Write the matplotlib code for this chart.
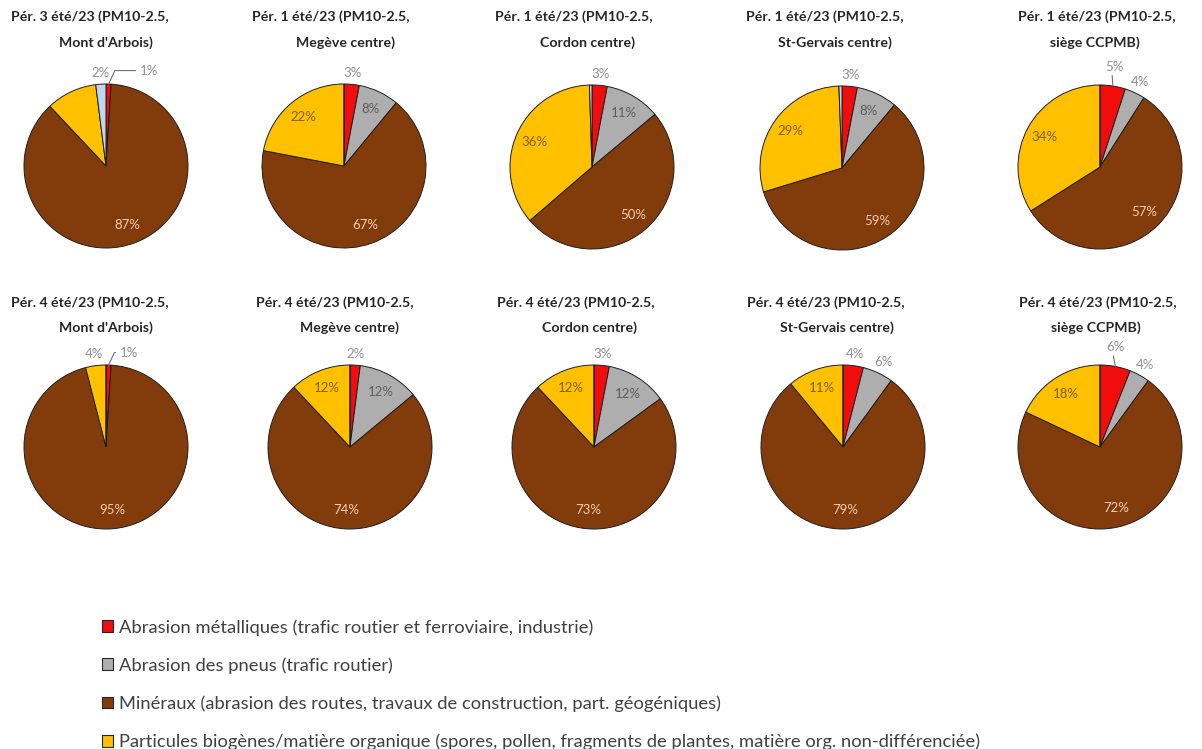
import matplotlib
matplotlib.use("Agg")
import numpy as np
import matplotlib.pyplot as plt
from matplotlib.patches import Patch

plt.rcParams["font.family"] = ["Lato", "DejaVu Sans"]

W, H = 1202, 749

title_top = ["Pér. 3 été/23 (PM10-2.5,", "Pér. 1 été/23 (PM10-2.5,", "Pér. 1 été/23 (PM10-2.5,",
             "Pér. 1 été/23 (PM10-2.5,", "Pér. 1 été/23 (PM10-2.5,", "Pér. 4 été/23 (PM10-2.5,",
             "Pér. 4 été/23 (PM10-2.5,", "Pér. 4 été/23 (PM10-2.5,", "Pér. 4 été/23 (PM10-2.5,",
             "Pér. 4 été/23 (PM10-2.5,"]
sites = ["Mont d'Arbois)", "Megève centre)", "Cordon centre)", "St-Gervais centre)", "siège CCPMB)",
         "Mont d'Arbois)", "Megève centre)", "Cordon centre)", "St-Gervais centre)", "siège CCPMB)"]

# shares in %, one entry per pie
metal = [1, 3, 3, 3, 5, 1, 2, 3, 4, 6]
tyres = [0, 8, 11, 8, 4, 0, 12, 12, 6, 4]
minerals = [87, 67, 50, 59, 57, 95, 74, 73, 79, 72]
biogenic = [10, 22, 36, 29, 34, 4, 12, 12, 11, 18]
unsorted = [2, 0, 0.5, 0.6, 0, 0, 0, 0, 0, 0]

legend_labels = [
    "Abrasion métalliques (trafic routier et ferroviaire, industrie)",
    "Abrasion des pneus (trafic routier)",
    "Minéraux (abrasion des routes, travaux de construction, part. géogéniques)",
    "Particules biogènes/matière organique (spores, pollen, fragments de plantes, matière org. non-différenciée)",
]

colors = ["#F20D0D", "#AEAEAE", "#823C0C", "#FFC000", "#BDD7EE"]
inside_colors = ["#8A8A8A", "#5E5E5E", "#F6CBB0", "#7F6000", "#8A8A8A"]
outside_color = "#8F8F8F"

# layout in pixels
R = 82
pie_x = [106, 344, 592, 842, 1100, 106, 350, 594, 843, 1100]
pie_y = [166, 166, 167, 168, 167, 447, 447, 447, 447, 447]
line1_x = [90, 331, 574, 825, 1097, 90, 335, 576, 826, 1098]
line2_x = [106, 345, 588, 835, 1095, 106, 350, 590, 837, 1096]
title_y = [(17, 43)] * 5 + [(303, 328)] * 5

# label moved off its default spot, with a leader line (px, y up)
shifted = {(0, 0): (40, 2), (5, 0): (20, 1), (4, 0): (0, 8), (9, 0): (-2, 8)}
no_label = {(0, 3)}

fig = plt.figure(figsize=(W / 100, H / 100), dpi=100)

for i in range(10):
    cx, cy = pie_x[i], pie_y[i]
    ax = fig.add_axes([(cx - R) / W, 1 - (cy + R) / H, 2 * R / W, 2 * R / H])
    vals = [metal[i], tyres[i], minerals[i], biogenic[i], unsorted[i]]
    wedges, _ = ax.pie(vals, colors=colors, startangle=90, counterclock=False, radius=1,
                       wedgeprops=dict(edgecolor="#1E1E1E", linewidth=0.7))
    ax.set_xlim(-1, 1)
    ax.set_ylim(-1, 1)
    ax.axis("off")

    for k, (w, v) in enumerate(zip(wedges, vals)):
        if v < 1 or (i, k) in no_label:
            continue
        ang = np.deg2rad((w.theta1 + w.theta2) / 2)
        txt = f"{v:.0f}%"
        if v >= 8:
            ax.text(0.77 * np.cos(ang), 0.77 * np.sin(ang), txt, ha="center", va="center",
                    fontsize=9.5, color=inside_colors[k])
            continue
        lx, ly = 1.15 * np.cos(ang), 1.14 * np.sin(ang)
        if (i, k) in shifted:
            dx, dy = shifted[(i, k)]
            lx, ly = lx + dx / R, ly + dy / R
            if abs(dx) > 5:
                ax.annotate(txt, xy=(np.cos(ang), np.sin(ang)), xytext=(lx, ly), ha="center",
                            va="center", fontsize=9.5, color=outside_color,
                            arrowprops=dict(arrowstyle="-", color="#707070", lw=0.8, shrinkA=1,
                                            shrinkB=0, relpos=(0, 0.5),
                                            connectionstyle="angle,angleA=0,angleB=65,rad=0"))
            else:
                ax.annotate(txt, xy=(np.cos(ang), np.sin(ang)), xytext=(lx, ly), ha="center",
                            va="center", fontsize=9.5, color=outside_color,
                            arrowprops=dict(arrowstyle="-", color="#707070", lw=0.8, shrinkA=0,
                                            shrinkB=0, relpos=(0.35, 0)))
        else:
            ax.text(lx, ly, txt, ha="center", va="center", fontsize=9.5, color=outside_color)

    y1, y2 = title_y[i]
    fig.text(line1_x[i] / W, 1 - y1 / H, title_top[i], ha="center", va="center",
             fontsize=10.2, fontweight="bold", color="#262626")
    fig.text(line2_x[i] / W, 1 - y2 / H, sites[i], ha="center", va="center",
             fontsize=10.2, fontweight="bold", color="#262626")

handles = [Patch(facecolor=c, edgecolor="#262626", linewidth=0.8) for c in colors[:4]]
fig.legend(handles, legend_labels, loc="upper left", bbox_to_anchor=(102 / W, 1 - 619 / H),
           frameon=False, fontsize=13.2, labelcolor="#404040", handlelength=0.62,
           handleheight=0.62, handletextpad=0.3, labelspacing=1.18, borderpad=0,
           borderaxespad=0)

fig.savefig("out.png", dpi=100)
